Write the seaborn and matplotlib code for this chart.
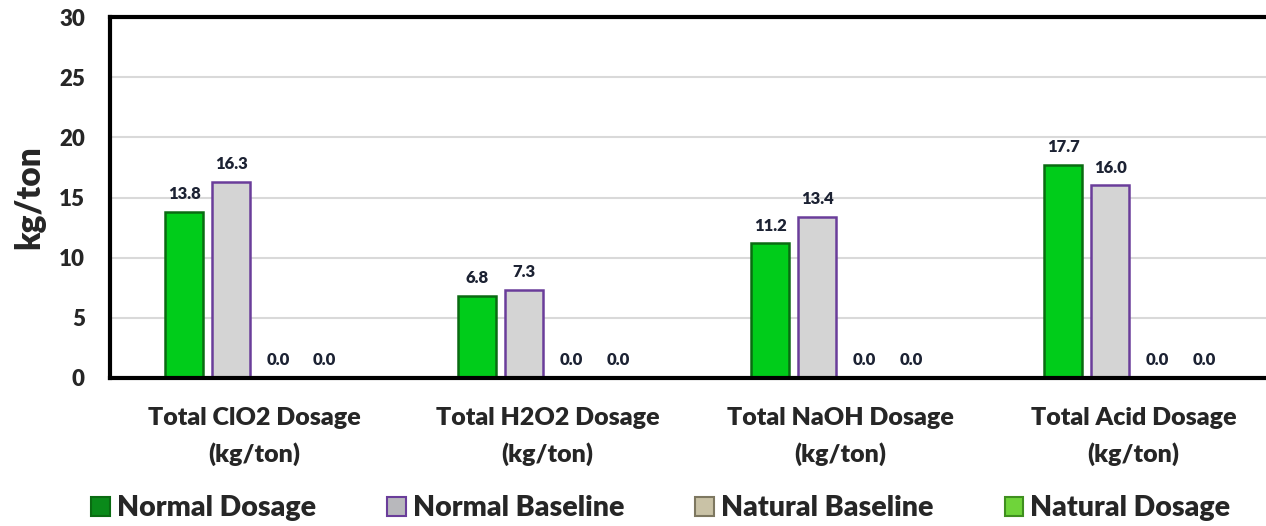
import numpy as np
import pandas as pd
import matplotlib
matplotlib.use('Agg')
import matplotlib.pyplot as plt
from matplotlib.patches import Patch
import seaborn as sns

categories = ['Total ClO2 Dosage\n(kg/ton)', 'Total H2O2 Dosage\n(kg/ton)',
              'Total NaOH Dosage\n(kg/ton)', 'Total Acid Dosage\n(kg/ton)']
series = ['Normal Dosage', 'Normal Baseline', 'Natural Baseline', 'Natural Dosage']
normal_dosage = [13.8, 6.8, 11.2, 17.7]
normal_baseline = [16.3, 7.3, 13.4, 16.0]
natural_baseline = [0.0, 0.0, 0.0, 0.0]
natural_dosage = [0.0, 0.0, 0.0, 0.0]

fills = ['#00cc1a', '#d4d4d4', '#c9c2a6', '#6fd43a']
edges = ['#0a6b12', '#6a3d9a', '#7d7760', '#3f8f1f']
legend_fills = ['#0a8a1a', '#b8b8bc', '#c9c2a6', '#6fd43a']

df = pd.DataFrame({
    'category': categories * 4,
    'series': np.repeat(series, 4),
    'value': normal_dosage + normal_baseline + natural_baseline + natural_dosage,
})

sns.set_style('white')
plt.rcParams['font.family'] = ['Lato', 'DejaVu Sans']
plt.rcParams['font.weight'] = 'bold'

fig = plt.figure(figsize=(12.66, 5.26), dpi=100)
ax = fig.add_axes([110 / 1266, 1 - 378 / 526, 1 - 110 / 1266, (378 - 17) / 526])

sns.barplot(data=df, x='category', y='value', hue='series', hue_order=series,
            palette=fills, saturation=1, width=0.64, gap=0.2, ax=ax, legend=False)

for cont, ec in zip(ax.containers, edges):
    for bar in cont:
        bar.set_edgecolor(ec)
        bar.set_linewidth(1.8)
    ax.bar_label(cont, fmt='%.1f', padding=7, fontsize=12, fontweight='heavy',
                 color='#1c2233')

ax.set_ylim(0, 30)
ax.set_yticks(range(0, 31, 5))
ax.set_xlim(-0.493, 3.452)
ax.yaxis.grid(True, color='#d9d9d9', linewidth=1.5)
ax.set_axisbelow(True)
ax.tick_params(axis='y', length=0, labelsize=16, pad=18)
ax.tick_params(axis='x', length=0, labelsize=18, pad=21)
for lab in ax.get_xticklabels() + ax.get_yticklabels():
    lab.set_fontweight('heavy')
for lab in ax.get_xticklabels():
    lab.set_linespacing(1.65)
ax.set_xlabel('')
ax.set_ylabel('kg/ton', fontsize=24, fontweight='heavy', labelpad=10)

for side in ['left', 'bottom', 'top']:
    ax.spines[side].set_color('black')
    ax.spines[side].set_linewidth(3)
ax.spines['right'].set_visible(False)

handles = [Patch(facecolor=f, edgecolor=e, linewidth=1.5) for f, e in zip(legend_fills, edges)]
fig.legend(handles, series, loc='lower center', bbox_to_anchor=(0.522, -0.04), ncol=4,
           frameon=False, handlelength=0.65, handleheight=0.65,
           handletextpad=0.25, columnspacing=2.5, prop={'weight': 'heavy', 'size': 20.5})

fig.savefig('out.png', dpi=100)
